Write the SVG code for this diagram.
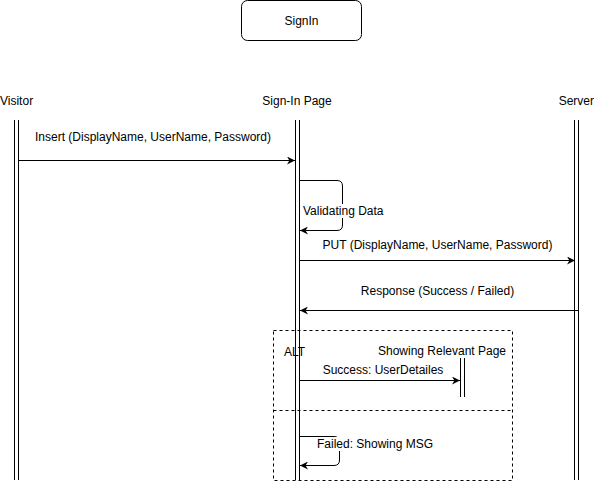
<svg xmlns="http://www.w3.org/2000/svg" width="594" height="482" viewBox="0 0 594 482">
<style>
text{font-family:"Liberation Sans",Arial,sans-serif;font-size:12px;fill:#000}
.ll{stroke:#000;stroke-width:1;fill:none}
.msg{stroke:#000;stroke-width:1;fill:none;marker-end:url(#ah)}
.dash{stroke:#000;stroke-width:1;fill:none;stroke-dasharray:3 3}
.bg{fill:#fff}
</style>
<defs>
<marker id="ah" viewBox="0 0 10 10" refX="10" refY="5" markerWidth="8" markerHeight="8" markerUnits="userSpaceOnUse" orient="auto">
<path d="M0,0 L10,5 L0,10 L3,5 Z" fill="#000"/>
</marker>
</defs>
<rect width="594" height="482" fill="#fff"/>
<g id="title">
<rect x="241.5" y="0.5" width="120" height="40" rx="6" fill="#fff" stroke="#000"/>
<text x="301.5" y="25" text-anchor="middle">SignIn</text>
</g>
<g id="visitor">
<text x="0" y="105">Visitor</text>
<line class="ll" x1="14.5" y1="120" x2="14.5" y2="480"/>
<line class="ll" x1="18.5" y1="120" x2="18.5" y2="480"/>
</g>
<g id="signin-page">
<text x="297" y="105" text-anchor="middle">Sign-In Page</text>
<line class="ll" x1="295.5" y1="120" x2="295.5" y2="480"/>
<line class="ll" x1="299.5" y1="120" x2="299.5" y2="480"/>
</g>
<g id="server">
<text x="594" y="105" text-anchor="end">Server</text>
<line class="ll" x1="574.5" y1="120" x2="574.5" y2="480"/>
<line class="ll" x1="578.5" y1="120" x2="578.5" y2="480"/>
</g>
<g id="alt">
<rect class="dash" x="273.5" y="330.5" width="239" height="150"/>
<line class="dash" x1="273.5" y1="410.5" x2="512.5" y2="410.5"/>
<text x="284" y="356">ALT</text>
</g>
<g id="relevant-page">
<text x="442" y="355" text-anchor="middle">Showing Relevant Page</text>
<line class="ll" x1="460.5" y1="358" x2="460.5" y2="397"/>
<line class="ll" x1="464.5" y1="358" x2="464.5" y2="397"/>
</g>
<g id="connectors">
<line class="msg" x1="18" y1="160.5" x2="295" y2="160.5"/>
<text x="153" y="141" text-anchor="middle">Insert (DisplayName, UserName, Password)</text>
<path class="msg" d="M300,180.5 H337 Q342.5,180.5 342.5,186 V225 Q342.5,230.5 337,230.5 H300"/>
<rect class="bg" x="302" y="204" width="82" height="14"/>
<text x="303" y="215">Validating Data</text>
<line class="msg" x1="300" y1="260.5" x2="575" y2="260.5"/>
<text x="437.5" y="249" text-anchor="middle">PUT (DisplayName, UserName, Password)</text>
<line class="msg" x1="579" y1="310.5" x2="300" y2="310.5"/>
<text x="437.5" y="295" text-anchor="middle">Response (Success / Failed)</text>
<line class="msg" x1="300" y1="380.5" x2="460" y2="380.5"/>
<text x="383" y="374" text-anchor="middle">Success: UserDetailes</text>
<path class="msg" d="M300,436.5 H334 Q339.5,436.5 339.5,442 V460 Q339.5,465.5 334,465.5 H300"/>
<rect class="bg" x="316" y="437" width="119" height="14"/>
<text x="317" y="448">Failed: Showing MSG</text>
</g>
</svg>
